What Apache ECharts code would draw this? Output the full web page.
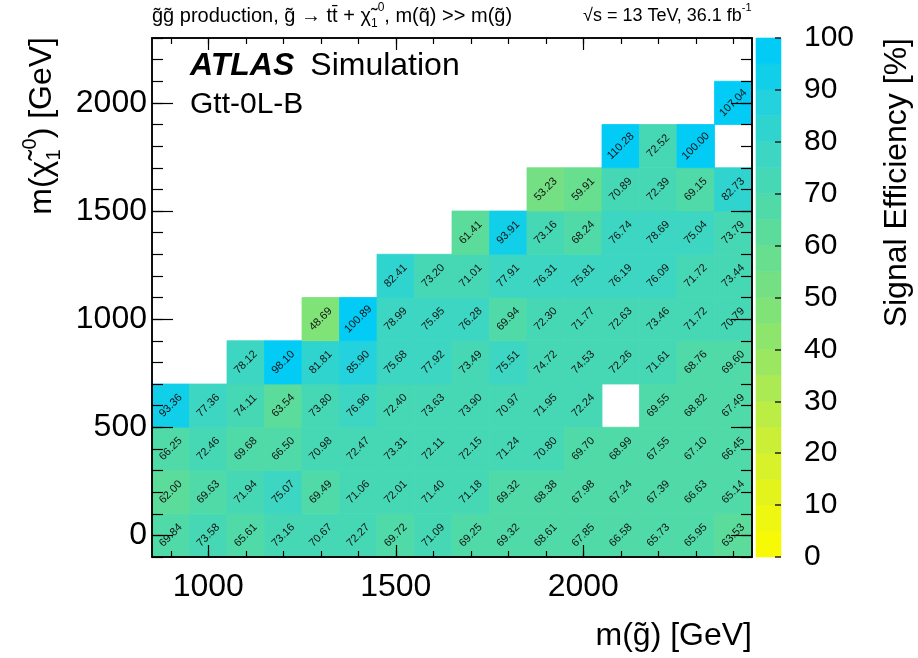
<!DOCTYPE html>
<html><head><meta charset="utf-8">
<script src="https://cdn.jsdelivr.net/npm/echarts@6/dist/echarts.min.js"></script>
<style>html,body{margin:0;padding:0;background:#fff}#c{width:918px;height:658px}</style>
</head><body><div id="c"></div>
<script>
// ---- data ----
const gluinoMasses = [900,1000,1100,1200,1300,1400,1500,1600,1700,1800,1900,2000,2100,2200,2300,2400];
const neutralinoMasses = [0,200,400,600,800,1000,1200,1400,1600,1800,2000];
const eff_n0    = [69.84,73.58,65.61,73.16,70.67,72.27,69.72,71.09,69.25,69.32,68.61,67.85,66.58,65.73,65.95,63.53];
const eff_n200  = [62.00,69.63,71.94,75.07,69.49,71.06,72.01,71.40,71.18,69.32,68.38,67.98,67.24,67.39,66.63,65.14];
const eff_n400  = [66.25,72.46,69.68,66.50,70.98,72.47,73.31,72.11,72.15,71.24,70.80,69.70,68.99,67.55,67.10,66.45];
const eff_n600  = [93.36,77.36,74.11,63.54,73.80,76.96,72.40,73.63,73.90,70.97,71.95,72.24,null,69.55,68.82,67.49];
const eff_n800  = [null,null,78.12,98.10,81.81,85.90,75.68,77.92,73.49,75.51,74.72,74.53,72.26,71.61,68.76,69.60];
const eff_n1000 = [null,null,null,null,48.69,100.89,78.99,75.95,76.28,69.94,72.30,71.77,72.63,73.46,71.72,70.79];
const eff_n1200 = [null,null,null,null,null,null,82.41,73.20,71.01,77.91,76.31,75.81,76.19,76.09,71.72,73.44];
const eff_n1400 = [null,null,null,null,null,null,null,null,61.41,93.91,73.16,68.24,76.74,78.69,75.04,73.79];
const eff_n1600 = [null,null,null,null,null,null,null,null,null,null,53.23,59.91,70.89,72.39,69.15,82.73];
const eff_n1800 = [null,null,null,null,null,null,null,null,null,null,null,null,110.28,72.52,100.00,null];
const eff_n2000 = [null,null,null,null,null,null,null,null,null,null,null,null,null,null,null,107.04];
const effRows = [eff_n0,eff_n200,eff_n400,eff_n600,eff_n800,eff_n1000,eff_n1200,eff_n1400,eff_n1600,eff_n1800,eff_n2000];

const xMajorTicks = [1000,1500,2000];
const yMajorTicks = [0,500,1000,1500,2000];
const zBandLows = [0,5,10,15,20,25,30,35,40,45,50,55,60,65,70,75,80,85,90,95];

// ---- style ----
const bandColors = ['#f8f905','#eef710','#e3f41c','#d7f22a','#caef36','#bbed44','#abea52','#9be760','#8de56c','#80e378',
                    '#74e083','#68de8f','#5cdc9b','#50daa8','#46d8b5','#3cd6c2','#30d4cf','#23d2dc','#12cfe9','#02ccf6'];
const FONT = 'Liberation Sans, Arial, Helvetica, sans-serif';
function colorFor(v){ let b = Math.floor(v/5); if (b<0) b=0; if (b>19) b=19; return bandColors[b]; }

const xMinor = []; for (let v=900; v<=2400; v+=100) xMinor.push(v);
const yMinor = []; for (let v=-100; v<=2300; v+=100) yMinor.push(v);

const cells = [];
effRows.forEach((row,i)=>row.forEach((v,j)=>{ if (v!==null) cells.push([gluinoMasses[j], neutralinoMasses[i], v]); }));

const XMIN=850, XMAX=2450, YMIN=-100, YMAX=2300;
const lineStyle = {color:'#000', width:1.5};
const plain = v => String(v);

function xAx(pos, ticks, len, labels){
  return {gridIndex:0, type:'value', min:XMIN, max:XMAX, position:pos, z:10,
    axisLine:{show:true, onZero:false, lineStyle}, splitLine:{show:false},
    axisTick:{show:true, inside:true, length:len, customValues:ticks, lineStyle:{color:'#000', width:1.2}},
    axisLabel: labels ? {show:true, customValues:ticks, formatter:plain, fontSize:32, fontFamily:FONT, color:'#000', margin:14} : {show:false}};
}
function yAx(pos, ticks, len, labels){
  return {gridIndex:0, type:'value', min:YMIN, max:YMAX, position:pos, z:10,
    axisLine:{show:true, onZero:false, lineStyle}, splitLine:{show:false},
    axisTick:{show:true, inside:true, length:len, customValues:ticks, lineStyle:{color:'#000', width:1.2}},
    axisLabel: labels ? {show:true, customValues:ticks, formatter:plain, fontSize:32, fontFamily:FONT, color:'#000', margin:5} : {show:false}};
}

const chart = echarts.init(document.getElementById('c'), null, {renderer:'canvas'});
chart.setOption({
  animation:false,
  backgroundColor:'#fff',
  grid:[
    {left:152, top:38, width:600, height:519},
    {left:756, top:38, width:25, height:519}
  ],
  xAxis:[
    xAx('bottom', xMinor, 6, false),
    xAx('bottom', xMajorTicks, 12, true),
    xAx('top', xMinor, 6, false),
    xAx('top', xMajorTicks, 12, false),
    {gridIndex:1, type:'value', min:0, max:1, show:false}
  ],
  yAxis:[
    yAx('left', yMinor, 11, false),
    yAx('left', yMajorTicks, 21, true),
    yAx('right', yMinor, 11, false),
    yAx('right', yMajorTicks, 21, false),
    {gridIndex:1, type:'value', min:0, max:100, interval:10, position:'right', z:10,
      axisLine:{show:false, onZero:false}, splitLine:{show:false},
      axisTick:{show:true, inside:true, length:6, lineStyle:{color:'#222', width:1.5}},
      axisLabel:{fontSize:30, fontFamily:FONT, color:'#000', margin:23}}
  ],
  series:[
    {type:'custom', coordinateSystem:'cartesian2d', xAxisIndex:0, yAxisIndex:0, data:cells,
      encode:{x:0, y:1}, z:2,
      renderItem(params, api){
        const x=api.value(0), y=api.value(1), v=api.value(2);
        const p0 = api.coord([x-50, y+100]);
        const p1 = api.coord([x+50, y-100]);
        const c = colorFor(v);
        return {type:'group', children:[
          {type:'rect', shape:{x:p0[0], y:p0[1], width:p1[0]-p0[0], height:p1[1]-p0[1]},
            style:{fill:c, stroke:c, lineWidth:0.8}},
          {type:'text', x:(p0[0]+p1[0])/2, y:(p0[1]+p1[1])/2, rotation:Math.PI/4, z2:5,
            style:{text:v.toFixed(2), fontSize:11, fontFamily:FONT, fill:'#111', align:'center', verticalAlign:'middle'}}
        ]};
      }},
    {type:'custom', coordinateSystem:'cartesian2d', xAxisIndex:4, yAxisIndex:4, data:zBandLows.map(v=>[0,v]),
      encode:{x:0, y:1}, z:2,
      renderItem(params, api){
        const lo = api.value(1);
        const p0 = api.coord([0, lo+5]);
        const p1 = api.coord([1, lo]);
        const c = bandColors[Math.round(lo/5)];
        return {type:'rect', shape:{x:p0[0], y:p0[1], width:p1[0]-p0[0], height:p1[1]-p0[1]},
          style:{fill:c, stroke:c, lineWidth:0.6}};
      }}
  ],
  graphic:[
    {type:'text', left:152, top:2, z:20, style:{
      text:'{a|g\u0303g\u0303 production, g\u0303 \u2192 tt\u0304 + \u03C7\u0303}{s|1}{p|0}{a|, m(q\u0303) >> m(g\u0303)}',
      rich:{a:{fontSize:20, fontFamily:FONT, lineHeight:28}, s:{fontSize:12, fontFamily:FONT, verticalAlign:'bottom', lineHeight:28}, p:{fontSize:12, fontFamily:FONT, verticalAlign:'top', lineHeight:28}}}},
    {type:'text', left:583, top:2, z:20, style:{
      text:'{a|\u221As = 13 TeV, 36.1 fb}{p|-1}',
      rich:{a:{fontSize:18, fontFamily:FONT, lineHeight:28}, p:{fontSize:11, fontFamily:FONT, verticalAlign:'top', lineHeight:28}}}},
    {type:'text', left:190, top:50, z:20, style:{
      text:'{b|ATLAS}{n|Simulation}',
      rich:{b:{fontSize:32, fontFamily:FONT, fontWeight:'bold', fontStyle:'italic'}, n:{fontSize:32, fontFamily:FONT, padding:[0,0,0,16]}}}},
    {type:'text', left:190, top:90, z:20, style:{text:'Gtt-0L-B', fontSize:30, fontFamily:FONT, fill:'#000'}},
    {type:'text', x:752, y:636, z:20, style:{text:'m(g\u0303) [GeV]', fontSize:32, fontFamily:FONT, fill:'#000', align:'right', verticalAlign:'middle'}},
    {type:'text', x:42, y:37, rotation:Math.PI/2, z:20, style:{
      text:'{a|m(\u03C7\u0303}{s|1}{p|0}{a|) [GeV]}', align:'right', verticalAlign:'middle',
      rich:{a:{fontSize:32, fontFamily:FONT, lineHeight:44}, s:{fontSize:20, fontFamily:FONT, verticalAlign:'bottom', lineHeight:44}, p:{fontSize:20, fontFamily:FONT, verticalAlign:'top', lineHeight:44}}}},
    {type:'text', x:897, y:38, rotation:Math.PI/2, z:20, style:{text:'Signal Efficiency [%]', fontSize:32, fontFamily:FONT, fill:'#000', align:'right', verticalAlign:'middle'}}
  ]
});
</script></body></html>
